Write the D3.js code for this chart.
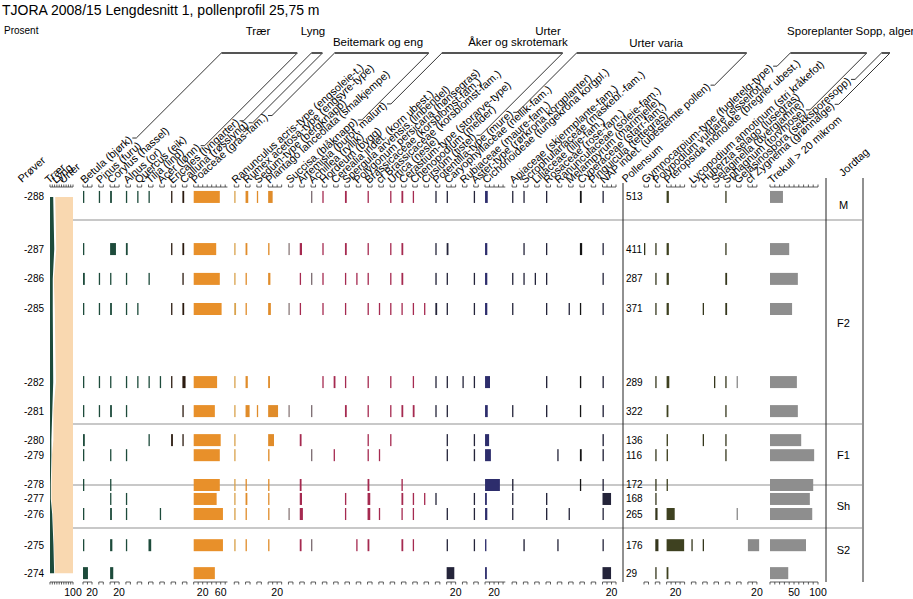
<!DOCTYPE html>
<html><head><meta charset="utf-8">
<script src="https://cdn.jsdelivr.net/npm/d3@7/dist/d3.min.js"></script>
<style>
html,body{margin:0;padding:0;background:#fff;}
svg{display:block;font-family:Arial,"Liberation Sans",Helvetica,sans-serif;}
</style></head><body>
<svg id="chart" width="913" height="599"></svg>
<script>
// ---------------- DATA ----------------
const title = "TJORA 2008/15 Lengdesnitt 1, pollenprofil 25,75 m";
const sampleLabels = ["-288","-287","-286","-285","-282","-281","-280","-279","-278","-277","-276","-275","-274"];
// estimated depth of each sample (cm, positive downwards from datum)
const sampleDepth = [288.0, 286.06, 284.95, 283.83, 281.11, 280.03, 278.95, 278.39, 277.28, 276.76, 276.20, 275.04, 274.0];
const pollenSum = [513, 411, 287, 371, 289, 322, 136, 116, 172, 168, 265, 176, 29];

const taxa = [
  "Betula (bjørk)", "Pinus (furu)", "Corylus (hassel)", "Alnus (or)", "Quercus (eik)", "Tilia (lind)", "Acer (lønn)",
  "Ericales (lyngarter)", "Calluna (røsslyng)",
  "Poaceae (gras-fam.)", "Ranunculus acris-type (engsoleie-t.)", "Rumex acetosa-type (engsyre-type)", "Sedum-type (bergknapp)",
  "Plantago lanceolata (smalkjempe)", "Succisa (blåknapp)",
  "Artemisia (burot, malurt)", "Achillea (ryllik)", "Hordeum (bygg)", "Cerealia indet. (korn ubest.)", "Spergula arvensis (linbendel)",
  "Polygonum persicaria (hønsegras)", "Brassicaceae (korsblomst-fam.)", "cf Brassicaceae (korsblomst-fam.)", "Urtica (nesle)",
  "Cerastium-type (storarve-type)", "Chenopodium (melder)", "Cirsium (tistel)",
  "Potentilla-type (mure)", "Caryophyllaceae (nellik-fam.)", "Rubiaceae (maure-fam.)", "Aster-type (rørkrona korgplanter)",
  "Cichorioideae (tungekrona korgpl.)", "Apiaceae (skjermplante-fam.)", "Scrophulariaceae (maskebl.-fam.)", "Liliaceae (lilje-fam.)",
  "Rosaceae (rose-fam.)", "Ranunculaceae (soleie-fam.)", "Melampyrum (marimjelle)", "Cyperaceae (starr-fam.)", "Pinguicula (tettegras)",
  "NAP indet. (ubestemte pollen)",
  "Gymnocarpium-type (fugletelg-type)", "Polypodium vulgare (sisselrot)", "Pteropsida monolete (bregner ubest.)",
  "Lycopodium annotinum (stri kråkefot)", "Huperzia selago (lusegras)", "Selaginella (dvergjamne)", "Sphagnum (torvmose)",
  "Gelasinospora (sekksporesopp)", "cf Zygnema (grønnalge)"
];
// axis extent (%) of each taxon column
const axisMax = [20,10,20,10,10,10,10, 10,10, 75,10,10,10,30,10, 10,10,10,10,10,10,10,10,10,10,10,10,
  10,20,10,10,45,10,10,10,10,10,10,10,10,30, 10,10,40,10,10,10,10, 10,20];
// percentage values, one row per taxon, samples top -> bottom
const percent = [
  [2,1.5,4,2,2,2,4,2,1.5,0,2,2,11],  // Betula
  [2,0,2,2,2,2,0,0,0,0,0,0,0],       // Pinus
  [4,13,2,4,2,4,0,2,2,1.5,4,5,7],    // Corylus
  [2,4,2,2,2,2,0,2,0,2,2,2,0],       // Alnus
  [2,0,0,2,2,0,0,0,0,0,0,0,0],       // Quercus
  [2,0,2,0,2,0,2,0,0,0,0,6,0],       // Tilia
  [0,0,0,0,2,0,0,0,0,0,1.5,0,0],     // Acer
  [2,2,0,2,2,0,4,0,0,0,0,0,0],       // Ericales
  [4,4,2,4,7,2,2,0,0,0,0,0,0],       // Calluna
  [58,50,58,62,52,47,60,58,58,51,65,65,47], // Poaceae
  [2,2,2,4,2,2,2,2,2,2,3,3,0],       // Ranunculus
  [6,4,2,2,5,9,0,0,2,4,2,2,0],       // Rumex
  [2,0,0,0,0,2,0,0,0,0,0,0,0],       // Sedum
  [10,3,5,6,4,22,13,3,2,2,2,2,0],    // Plantago
  [0,2,0,2,0,2,0,0,0,0,1.5,0,0],     // Succisa
  [0,5,2,2,0,0,4,0,4,5,7,4,0],       // Artemisia
  [2,0,2,0,0,2,0,2,0,0,0,2,0],       // Achillea
  [2,2,2,2,2,0,0,0,0,0,0,0,0],       // Hordeum
  [0,0,0,0,4,0,0,2,0,0,0,0,0],       // Cerealia
  [4,4,2,2,2,4,0,0,0,3,2,0,0],       // Spergula
  [0,0,2,0,0,0,0,0,0,0,0,2,0],       // Polygonum
  [2,2,2,2,2,2,2,2,4,6,6,4,0],       // Brassicaceae
  [0,0,0,2,0,0,0,2,0,0,2,0,0],       // cf Brassicaceae
  [2,2,2,2,2,2,2,0,0,0,0,0,0],       // Urtica
  [4,4,4,2,0,4,0,0,3,4,2,4,0],       // Cerastium
  [2,0,0,2,2,4,0,0,0,3,2,2,0],       // Chenopodium
  [0,0,0,2,0,0,0,0,0,2,0,0,0],       // Cirsium
  [2,2,3,4,2,2,0,0,0,2,0,0,0],       // Potentilla
  [2,4,2,2,2,2,2,2,0,0,2,2,17],      // Caryophyllaceae
  [0,0,0,0,2,0,0,0,0,0,0,0,0],       // Rubiaceae
  [2,0,2,2,2,0,2,3,0,2,2,2,0],       // Aster-type
  [6,5,5,5,11,6,9,13,33,4,5,3,4],    // Cichorioideae
  [2,0,2,2,0,2,0,0,3,2,2,0,0],       // Apiaceae
  [2,2,2,0,0,0,0,0,0,0,0,3,0],       // Scrophulariaceae
  [0,0,2,0,0,0,0,0,0,0,0,0,0],       // Liliaceae
  [2,2,2,2,3,3,0,0,0,3,3,0,0],       // Rosaceae
  [0,0,0,0,0,0,0,2,0,0,0,2,0],       // Ranunculaceae
  [0,0,0,2,0,0,0,0,0,0,2,0,0],       // Melampyrum
  [4,5,0,2,3,2,0,4,2,0,0,0,0],       // Cyperaceae
  [0,0,0,0,0,0,0,0,0,0,0,0,0],       // Pinguicula
  [2,1.5,2,2,3,3,3,3,2,19,2,1.5,19], // NAP indet.
  [0,2,0,0,0,0,0,0,0,0,0,0,0],       // Gymnocarpium
  [0,2,2,2,2,0,0,2,2,2,5,7,2],       // Polypodium
  [5,5,5,5,6,4,3,3,2,0,18,39,4],     // Pteropsida
  [0,0,0,0,0,0,0,0,0,0,0,2,0],       // Lycopodium
  [0,0,0,2,0,0,2,0,0,0,0,2,0],       // Huperzia
  [0,0,0,0,2,0,0,0,0,0,0,0,0],       // Selaginella
  [2,2,4,4,2,2,2,2,0,0,0,0,0],       // Sphagnum
  [0,0,0,0,2,0,0,0,0,0,2,0,0],       // Gelasinospora
  [0,0,0,0,0,0,0,0,0,0,0,25,0]       // cf Zygnema
];
const charcoalLabel = "Trekull > 20 mikrom";
const charcoal = [27,40,58,46,56,58,65,92,90,83,88,75,38];

const groupNames = ["Trær","Lyng","Beitemark og eng","Åker og skrotemark","Urter varia","Sporeplanter","Sopp, alger"];
const groupFirst = [0, 7, 9, 15, 27, 41, 48];
const groupLast  = [6, 8, 14, 26, 40, 47, 49];
const summaryNames = ["Trær","Lyng","Urter"];

const zoneBounds = [287.14, 279.55, 277.28, 275.68];
const zoneNames = ["M","F2","F1","Sh","S2"];
const zoneMid = [287.7, 283.3, 278.4, 276.5, 274.86];

const tickLabelled = {0:[20], 2:[20], 9:[20,60], 13:[20], 28:[20], 31:[20], 40:[20], 43:[20], 49:[20]};
const charcoalTicks = [50, 100];
const summaryTicks = [100];

// ---------------- LAYOUT ----------------
const svg = d3.select("#chart");
const yTop = 187, yBot = 582;
const y = d3.scaleLinear().domain([288.37, 273.67]).range([yTop, yBot]);
const pxPerPct = 0.45, gap = 6.8;
const barH = 12;

const groupOf = i => groupFirst.findIndex((f, g) => i >= f && i <= groupLast[g]);
const groupColor = ["#1d4b3b", "#2b1b10", "#e08c2a", "#a52a50", "#24243a", "#35371d", "#8a8a8a"];
const specialColor = {"Poaceae (gras-fam.)": "#e8902a", "Ranunculus acris-type (engsoleie-t.)": "#d9a24c",
  "Cichorioideae (tungekrona korgpl.)": "#2d2d6c", "Pteropsida monolete (bregner ubest.)": "#3e4120",
  "Cyperaceae (starr-fam.)": "#151515", "Succisa (blåknapp)": "#8a7a7a", "Achillea (ryllik)": "#7a6a70"};

// x positions
const xPos = [];
let cx = 83;
taxa.forEach((t, i) => {
  if (i === 41) cx = 644;
  xPos.push(cx);
  cx += axisMax[i] * pxPerPct + gap;
});
const xScales = taxa.map((t, i) => d3.scaleLinear().domain([0, axisMax[i]]).range([xPos[i], xPos[i] + axisMax[i] * pxPerPct]));
const xChar = d3.scaleLinear().domain([0, 100]).range([770, 818]);
const xSum = d3.scaleLinear().domain([0, 100]).range([50, 73]);
const pollenSumX = 623;
const jordX0 = 826, jordX1 = 863;

// title etc
svg.append("text").attr("x", 2).attr("y", 15).attr("font-size", 14).text(title);
svg.append("text").attr("x", 4).attr("y", 34).attr("font-size", 10).text("Prosent");

// zone lines
zoneBounds.forEach(d => {
  svg.append("line").attr("x1", 72).attr("x2", 862).attr("y1", y(d)).attr("y2", y(d))
    .attr("stroke", "#c8c8c8").attr("stroke-width", 2);
});

// summary diagram
const treeSum = sampleDepth.map((d, s) => d3.sum(percent.slice(0, 7), r => r[s]));
const heathSum = sampleDepth.map((d, s) => d3.sum(percent.slice(7, 9), r => r[s]));
const sumData = sampleDepth.map((d, s) => ({d, t: treeSum[s], h: heathSum[s]}));
const areaG = svg.append("g");
areaG.append("path").datum(sumData)
  .attr("d", d3.area().y(p => y(p.d)).x0(p => xSum(p.t + p.h) + 0.6).x1(xSum(100)))
  .attr("fill", "#f9d8b0");
areaG.append("path").datum(sumData)
  .attr("d", d3.area().y(p => y(p.d)).x0(p => xSum(p.t) + 0.3).x1(p => xSum(p.t + p.h)))
  .attr("fill", "#ffffff");
areaG.append("path").datum(sumData)
  .attr("d", d3.area().y(p => y(p.d)).x0(xSum(0)).x1(p => xSum(p.t)))
  .attr("fill", "#1d4b3b");

// helper for axis
function drawAxis(sc, maxV, labels, step) {
  const x0 = sc(0), x1 = sc(maxV);
  const g = svg.append("g").attr("stroke", "#333").attr("stroke-width", 0.8).attr("fill", "none");
  g.append("line").attr("x1", x0).attr("x2", x1).attr("y1", yTop).attr("y2", yTop);
  g.append("line").attr("x1", x0).attr("x2", x1).attr("y1", yBot).attr("y2", yBot);
  d3.range(0, maxV + 0.01, step).forEach(v => {
    g.append("line").attr("x1", sc(v)).attr("x2", sc(v)).attr("y1", yTop).attr("y2", yTop - 2.5);
    g.append("line").attr("x1", sc(v)).attr("x2", sc(v)).attr("y1", yBot).attr("y2", yBot + 2.5);
  });
  (labels || []).forEach(v => {
    svg.append("text").attr("x", sc(v)).attr("y", yBot + 14).attr("font-size", 10.5)
      .attr("text-anchor", "middle").text(v);
  });
}
drawAxis(xSum, 100, summaryTicks, 10);

// taxon bars
taxa.forEach((name, i) => {
  const sc = xScales[i];
  const col = specialColor[name] || groupColor[groupOf(i)];
  drawAxis(sc, axisMax[i], tickLabelled[i], 10);
  svg.append("g").selectAll("rect").data(percent[i].map((v, s) => ({v, d: sampleDepth[s]})).filter(p => p.v > 0))
    .join("rect")
    .attr("x", sc(0)).attr("width", p => Math.max(1.3, sc(p.v) - sc(0)))
    .attr("y", p => y(p.d) - barH / 2).attr("height", barH)
    .attr("fill", col);
});

// charcoal
drawAxis(xChar, 100, charcoalTicks, 10);
svg.append("g").selectAll("rect").data(charcoal.map((v, s) => ({v, d: sampleDepth[s]})))
  .join("rect")
  .attr("x", xChar(0)).attr("width", p => xChar(p.v) - xChar(0))
  .attr("y", p => y(p.d) - barH / 2).attr("height", barH)
  .attr("fill", "#8e8e8e");

// pollen sum column
svg.append("line").attr("x1", pollenSumX).attr("x2", pollenSumX).attr("y1", 183).attr("y2", yBot)
  .attr("stroke", "#222").attr("stroke-width", 1);
svg.append("g").selectAll("text").data(pollenSum).join("text")
  .attr("x", pollenSumX + 3).attr("y", (v, s) => y(sampleDepth[s]) + 3.5)
  .attr("font-size", 10).text(v => v);

// Jordtag column
[jordX0, jordX1].forEach(x => svg.append("line").attr("x1", x).attr("x2", x).attr("y1", 178).attr("y2", yBot)
  .attr("stroke", "#222").attr("stroke-width", 1));
svg.append("g").selectAll("text").data(zoneNames).join("text")
  .attr("x", (jordX0 + jordX1) / 2 - 1).attr("y", (v, z) => y(zoneMid[z]) + 4)
  .attr("text-anchor", "middle").attr("font-size", 11).text(v => v);

// sample labels
svg.append("g").selectAll("text").data(sampleLabels).join("text")
  .attr("x", 44).attr("y", (v, s) => y(sampleDepth[s]) + 3.5)
  .attr("text-anchor", "end").attr("font-size", 10).text(v => v);

// rotated labels
const angDeg = 42;
const ang = angDeg * Math.PI / 180;
function rotLabel(x, yy, txt, size) {
  const t = svg.append("text").attr("transform", `translate(${x},${yy}) rotate(${-angDeg})`)
    .attr("font-size", size || 10.8).text(txt);
  const len = t.node().getComputedTextLength();
  const ex = x + len * Math.cos(ang) - 3.5 * Math.sin(ang);
  const ey = yy - len * Math.sin(ang) - 3.5 * Math.cos(ang);
  return [ex, ey];
}
rotLabel(22, 183, "Prøver");
summaryNames.forEach((n, j) => rotLabel(49 + j * 7, 184, n));
const ends = taxa.map((n, i) => rotLabel(xPos[i] + 1.5, 184, n));
rotLabel(pollenSumX + 3, 183, "Pollensum");
rotLabel(772, 184, charcoalLabel);
rotLabel(843, 177, "Jordtag");

// group brackets & leaders
const bracketY = 53;
const leadG = svg.append("g").attr("stroke", "#333").attr("stroke-width", 1).attr("fill", "none");
function leader(i) {
  const [ex, ey] = ends[i];
  const sx = ex + 2, hx = sx + 4;
  const tx = hx + (ey - bracketY);
  leadG.append("path").attr("d", `M${sx},${ey}L${hx},${ey}L${tx},${bracketY}`);
  return tx;
}
const headerX = [258, 313, 378, 518, 656, 820, 885];
const headerY = [35, 35, 46, 46, 47, 35, 35];
groupNames.forEach((g, k) => {
  const a = leader(groupFirst[k]);
  const b = leader(groupLast[k]);
  leadG.append("line").attr("x1", a).attr("x2", b).attr("y1", bracketY).attr("y2", bracketY)
    .attr("stroke", "#555").attr("stroke-width", 2);
  svg.append("text").attr("x", headerX[k]).attr("y", headerY[k])
    .attr("text-anchor", "middle").attr("font-size", 11.5).text(g);
});
svg.append("text").attr("x", 548).attr("y", 35).attr("text-anchor", "middle").attr("font-size", 11.5).text("Urter");
</script>
</body></html>
